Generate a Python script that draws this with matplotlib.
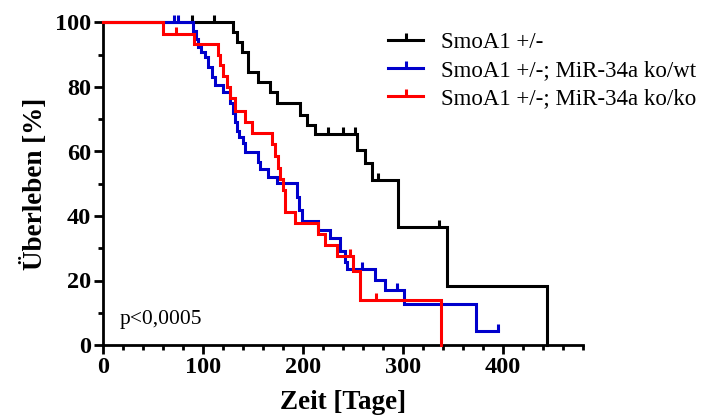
import matplotlib
matplotlib.use("Agg")
import matplotlib.pyplot as plt
from matplotlib.path import Path
from matplotlib.lines import Line2D
from matplotlib.ticker import MultipleLocator

# ---- data (Kaplan-Meier step points: time in days, survival in %) ----
black_t = [0, 130, 134, 139, 145, 155, 167, 174, 197, 204, 212, 254, 262, 269, 295, 344, 444]
black_s = [100, 97.1, 94.0, 91.0, 84.7, 81.6, 78.5, 75.0, 71.3, 68.2, 65.4, 60.5, 56.4, 51.2, 36.6, 18.3, 0]
black_ct = [89, 111, 225, 240, 252, 275, 336]
black_cs = [100, 100, 65.4, 65.4, 65.4, 51.2, 36.6]

blue_t = [0, 90, 93, 95, 98, 102, 105, 109, 112, 120, 127, 130, 132, 134, 136, 140, 142, 155, 157, 165, 174,
          194, 196, 199, 215, 227, 237, 242, 244, 272, 282, 301, 373, 395]
blue_s = [100, 97.5, 95.0, 92.5, 91.0, 89.4, 86.3, 83.2, 80.6, 78.5, 75.0, 72.0, 69.0, 66.5, 64.6, 62.6, 59.9,
          56.8, 54.5, 52.2, 50.2, 46.0, 42.0, 38.5, 35.7, 33.3, 29.0, 25.8, 23.6, 20.2, 16.9, 12.7, 4.4, 4.4]
blue_ct = [71, 75, 259, 294, 395]
blue_cs = [100, 100, 23.6, 16.9, 4.4]

red_t = [0, 60, 91, 115, 117, 120, 124, 127, 132, 142, 149, 169, 172, 175, 177, 180, 182, 192, 215, 222, 234,
         250, 257, 338]
red_s = [100, 96.5, 93.3, 90.0, 86.7, 83.3, 80.0, 76.7, 72.5, 69.2, 65.8, 62.2, 58.6, 55.0, 51.5, 48.0, 41.3,
         37.8, 34.4, 31.0, 27.6, 23.0, 13.8, 0]
red_ct = [73, 247, 273]
red_cs = [96.5, 27.6, 13.8]

labels = ["SmoA1 +/-", "SmoA1 +/-; MiR-34a ko/wt", "SmoA1 +/-; MiR-34a ko/ko"]
colors = ["#000000", "#0000CC", "#FF0000"]
x_ticks = [0, 100, 200, 300, 400]
y_ticks = [0, 20, 40, 60, 80, 100]
p_text = "p<0,0005"

serif = ["Liberation Serif", "DejaVu Serif"]
plt.rcParams["font.family"] = serif

fig = plt.figure(figsize=(7.01, 4.19), dpi=100)
ax = fig.add_axes([103 / 701, 1 - 345 / 419, 480 / 701, (345 - 22.5) / 419])

tick_marker = Path([(0, 0), (0, 1)], [Path.MOVETO, Path.LINETO])
lw = 2.2

series = [(black_t, black_s, black_ct, black_cs), (blue_t, blue_s, blue_ct, blue_cs), (red_t, red_s, red_ct, red_cs)]
for (t, s, ct, cs), c in zip(series, colors):
    ax.step(t, s, where="post", color=c, lw=lw, clip_on=False, solid_joinstyle="miter", zorder=3)
    ax.plot(ct, cs, ls="none", marker=tick_marker, ms=10.5, mew=lw, color=c, clip_on=False, zorder=3)

ax.set_xlim(0, 480)
ax.set_ylim(0, 100)
ax.set_xticks(x_ticks)
ax.set_yticks(y_ticks)
ax.xaxis.set_minor_locator(MultipleLocator(20))
ax.yaxis.set_minor_locator(MultipleLocator(10))
for sp in ["top", "right"]:
    ax.spines[sp].set_visible(False)
for sp in ["left", "bottom"]:
    ax.spines[sp].set_linewidth(2.0)
ax.tick_params(which="major", length=6.5, width=2.0, labelsize=17.5, pad=2)
ax.tick_params(which="minor", length=3.8, width=2.0)
for lab in ax.get_xticklabels() + ax.get_yticklabels():
    lab.set_fontweight("bold")

ax.set_xlabel("Zeit [Tage]", fontsize=19.5, fontweight="bold", labelpad=9)
ax.set_ylabel("Überleben [%]", fontsize=19.5, fontweight="bold", labelpad=5)

ax.text(17, 8, p_text, fontsize=15.5, va="center", ha="left")

handles = [Line2D([], [], color=c, lw=lw, marker=tick_marker, ms=10.5, mew=lw) for c in colors]
fig.legend(handles, labels, loc="upper left", bbox_to_anchor=(388 / 701, 1 - 32 / 419),
           frameon=False, fontsize=16.5, borderpad=0, borderaxespad=0, handlelength=1.53,
           handletextpad=0.8, labelspacing=0.3, numpoints=1)

fig.savefig("out.png", dpi=100)
